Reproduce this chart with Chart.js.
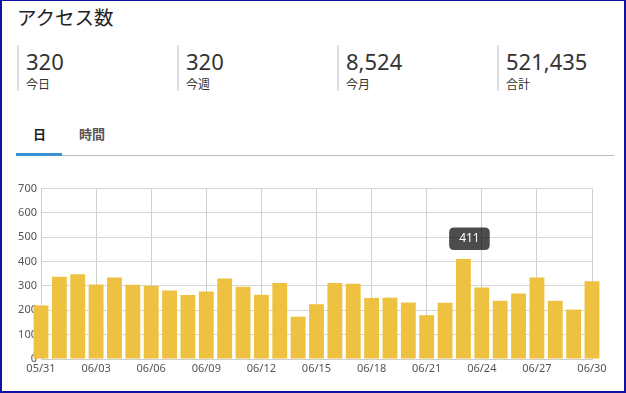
<!DOCTYPE html>
<html>
<head>
<meta charset="utf-8">
<script src="https://cdn.jsdelivr.net/npm/chart.js@4"></script>
<style>
  body { margin: 0; background: #fff; font-family: "Segoe UI", "Noto Sans", "Noto Sans CJK JP", sans-serif; color: #333; }
  #frame { position: absolute; left: 0; top: 0; width: 626px; height: 393px; box-sizing: border-box; border: 2px solid #1212a0; border-top-width: 1px; }
  #title { position: absolute; left: 17px; top: 2px; font-size: 19.5px; font-family: "Noto Sans CJK JP", sans-serif; color: #222; }
  .stat { position: absolute; top: 45px; height: 46px; border-left: 2px solid #ddd; padding-left: 7px; }
  .stat .num { font-size: 22px; line-height: 22px; margin-top: 5px; color: #333; font-family: "Noto Sans", sans-serif; }
  .stat .lbl { font-size: 12px; margin-top: 3px; font-family: "Noto Sans CJK JP", sans-serif; color: #333; }
  .tab { position: absolute; top: 124px; font-size: 13px; font-family: "Noto Sans CJK JP", sans-serif; }
  #tabline { position: absolute; left: 16px; top: 155px; width: 598px; height: 1px; background: #bbb; }
  #tabsel { position: absolute; left: 16px; top: 153px; width: 46px; height: 3px; background: #3b8fd4; }
  #wrap { position: absolute; left: 0; top: 178px; width: 615px; height: 200px; }
</style>
</head>
<body>
<div id="frame"></div>
<div id="title">アクセス数</div>
<div class="stat" style="left:17px"><div class="num">320</div><div class="lbl">今日</div></div>
<div class="stat" style="left:177px"><div class="num">320</div><div class="lbl">今週</div></div>
<div class="stat" style="left:337px"><div class="num">8,524</div><div class="lbl">今月</div></div>
<div class="stat" style="left:497px"><div class="num">521,435</div><div class="lbl">合計</div></div>
<div class="tab" style="left:33px; font-weight:bold; color:#222">日</div>
<div class="tab" style="left:79px; font-weight:bold; color:#555">時間</div>
<div id="tabline"></div>
<div id="tabsel"></div>
<div id="wrap"><canvas id="accesschart"></canvas></div>
<script>
const dates = ['05/31','06/01','06/02','06/03','06/04','06/05','06/06','06/07','06/08','06/09',
               '06/10','06/11','06/12','06/13','06/14','06/15','06/16','06/17','06/18','06/19',
               '06/20','06/21','06/22','06/23','06/24','06/25','06/26','06/27','06/28','06/29','06/30'];
const visits = [220, 338, 348, 306, 335, 305, 301, 281, 263, 277,
                331, 297, 264, 312, 174, 225, 312, 309, 251, 252,
                232, 180, 231, 411, 294, 239, 269, 335, 239, 203, 319];
const yTicks = [0, 100, 200, 300, 400, 500, 600, 700];
const tickEvery = 3;
const shownIndex = 23;

Chart.Tooltip.positioners.aboveBar = function(items) {
    if (!items.length) return false;
    const el = items[0].element;
    return { x: el.x + 6, y: el.y };
};

const ctx = document.getElementById('accesschart').getContext('2d');
const chart = new Chart(ctx, {
    type: 'bar',
    data: {
        labels: dates,
        datasets: [{
            label: 'アクセス数',
            data: visits,
            backgroundColor: 'rgb(238, 194, 64)',
            hoverBackgroundColor: 'rgb(238, 194, 64)',
            barPercentage: 0.9,
            categoryPercentage: 0.9,
            clip: false
        }]
    },
    options: {
        responsive: true,
        maintainAspectRatio: false,
        animation: false,
        events: [],
        layout: { padding: { top: 9, right: 23, left: 0, bottom: 0 } },
        plugins: {
            legend: { display: false },
            title: { display: false },
            tooltip: {
                position: 'aboveBar',
                yAlign: 'bottom',
                xAlign: 'center',
                caretSize: 0,
                caretPadding: 9,
                displayColors: false,
                backgroundColor: 'rgba(0,0,0,0.7)',
                bodyColor: '#fff',
                bodyFont: { family: 'Noto Sans', size: 12 },
                padding: { x: 10, y: 4 },
                cornerRadius: 5,
                callbacks: {
                    title: () => '',
                    label: c => String(c.parsed.y)
                }
            }
        },
        scales: {
            x: {
                offset: false,
                grid: {
                    offset: false,
                    drawTicks: false,
                    color: c => (c.index % tickEvery === 0 ? '#cfcfcf' : 'rgba(0,0,0,0)')
                },
                border: { color: '#cfcfcf' },
                ticks: {
                    autoSkip: false,
                    maxRotation: 0,
                    padding: 3,
                    color: '#555',
                    font: { family: 'Noto Sans', size: 11 },
                    callback: (v, i) => (i % tickEvery === 0 ? dates[i] : '')
                },
                afterFit: s => { s.height = 19; }
            },
            y: {
                min: yTicks[0],
                max: yTicks[yTicks.length - 1],
                grid: { drawTicks: false, color: '#d6d6d6' },
                border: { color: '#cfcfcf' },
                ticks: {
                    stepSize: 100,
                    padding: 4,
                    color: '#555',
                    font: { family: 'Noto Sans', size: 11 }
                },
                afterFit: s => { s.width = 41; }
            }
        }
    }
});

chart.tooltip.setActiveElements([{ datasetIndex: 0, index: shownIndex }], { x: 0, y: 0 });
chart.update();
</script>
</body>
</html>
